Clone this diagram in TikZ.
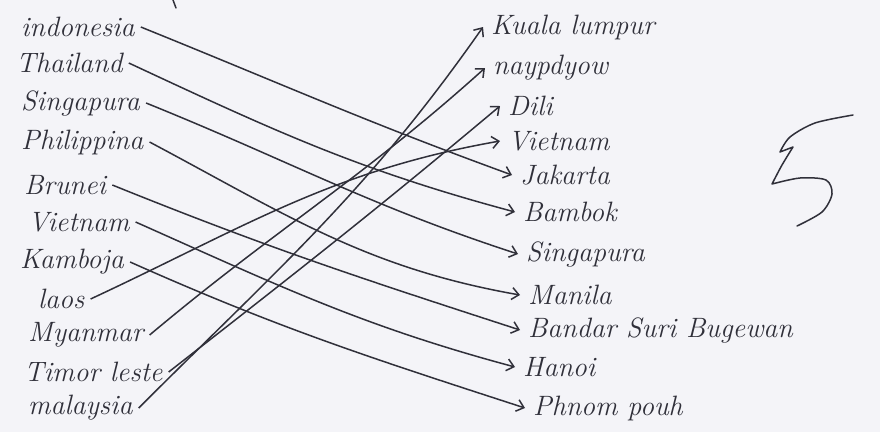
\documentclass[tikz,border=0pt]{standalone}
\usepackage{tikz}
\usetikzlibrary{arrows.meta,positioning,backgrounds}
\definecolor{ink}{RGB}{48,48,58}
\definecolor{paper}{RGB}{244,244,248}

\begin{document}
\begin{tikzpicture}[x=1pt,y=-1pt,
  country/.style={anchor=west,inner sep=6pt,text=ink,font=\fontsize{28}{32}\selectfont\itshape},
  capital/.style={anchor=west,inner sep=8pt,text=ink,font=\fontsize{28}{32}\selectfont\itshape},
  match/.style={ink,line width=1.5pt,-{Straight Barb[length=7pt,width=12pt,line width=1.5pt]}}]
\fill[paper] (0,0) rectangle (880,432);
\useasboundingbox (0,0) rectangle (880,432);

% countries
\node[country] (idn) at (15,27) {indonesia};
\node[country] (tha) at (10,63) {Thailand};
\node[country] (sin) at (15,103) {Singapura};
\node[country] (phi) at (15,142) {Philippina};
\node[country] (bru) at (18,185) {Brunei};
\node[country] (vnm) at (22,222) {Vietnam};
\node[country] (kam) at (14,262) {Kamboja};
\node[country] (lao) at (32,299) {laos};
\node[country] (mya) at (22,335) {Myanmar};
\node[country] (tim) at (18,372) {Timor leste};
\node[country] (mal) at (22,408) {malaysia};

% capitals
\node[capital] (kl) at (483,27) {Kuala lumpur};
\node[capital] (nay) at (485,68) {naypdyow};
\node[capital] (dil) at (500,106) {Dili};
\node[capital] (vie) at (500,141) {Vietnam};
\node[capital] (jak) at (512,175) {Jakarta};
\node[capital] (bam) at (515,212) {Bambok};
\node[capital] (sgp) at (518,254) {Singapura};
\node[capital] (mnl) at (520,295) {Manila};
\node[capital] (bsb) at (520,330) {Bandar Suri Bugewan};
\node[capital] (han) at (515,367) {Hanoi};
\node[capital] (pnh) at (525,408) {Phnom pouh};

% matches
\draw[match] (idn.east) to[out=-22,in=160] (jak.west);
\draw[match] (tha.east) to[out=-25,in=165] (bam.west);
\draw[match] (sin.east) to[out=-22,in=162] (sgp.west);
\draw[match] (phi.east) to[out=-28,in=170] (mnl.west);
\draw[match] (bru.east) to[out=-22,in=162] (bsb.west);
\draw[match] (vnm.east) to[out=-24,in=165] (han.west);
\draw[match] (kam.east) to[out=-24,in=162] (pnh.west);
\draw[match] (lao.east) to[out=25,in=190] (vie.west);
\draw[match] (mya.east) to[out=40,in=-138] (nay.west);
\draw[match] (tim.east) to[out=38,in=-140] (dil.west);
\draw[match] (mal.east) to[out=45,in=-125] (kl.west);

% score
\draw[ink,line width=1.5pt,line cap=round,line join=round]
  plot[smooth] coordinates {(853,115) (815,123) (790,137) (780,152)}
  -- (793,147)
  plot[smooth] coordinates {(793,147) (782,165) (772,184)}
  plot[smooth] coordinates {(772,184) (800,178) (826,180) (832,194) (822,212) (797,226)};
\draw[ink,line width=1.5pt,line cap=round] (173,0) -- (176,8);
\end{tikzpicture}
\end{document}
